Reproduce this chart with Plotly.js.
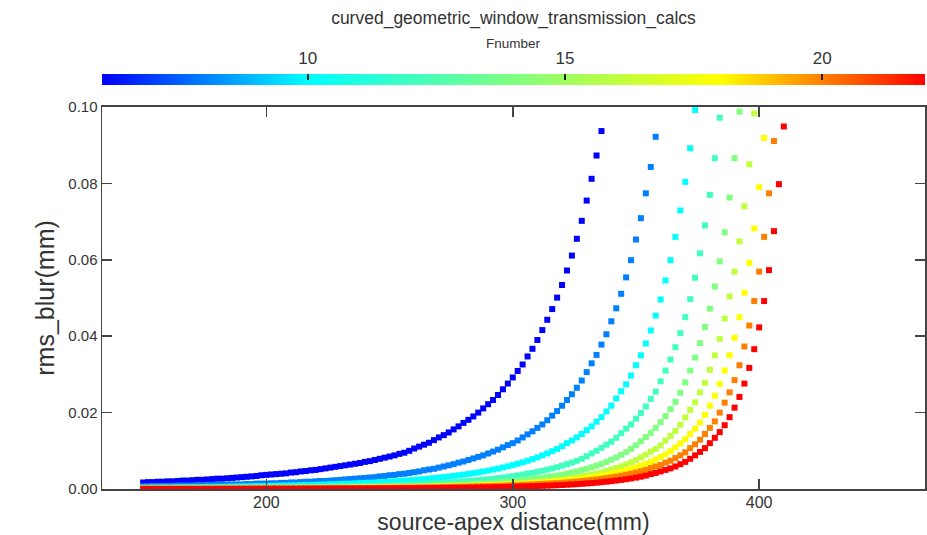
<!DOCTYPE html>
<html><head><meta charset="utf-8">
<script src="https://cdn.plot.ly/plotly-3.0.1.min.js"></script>
<style>html,body{margin:0;padding:0;background:#fff}#chart{width:927px;height:535px}</style>
</head><body><div id="chart"></div>
<script>
// source-apex distance (mm), shared sample grid
const distance = [
150,152,154,156,158,160,162,164,166,168,
170,172,174,176,178,180,182,184,186,188,
190,192,194,196,198,200,202,204,206,208,
210,212,214,216,218,220,222,224,226,228,
230,232,234,236,238,240,242,244,246,248,
250,252,254,256,258,260,262,264,266,268,
270,272,274,276,278,280,282,284,286,288,
290,292,294,296,298,300,302,304,306,308,
310,312,314,316,318,320,322,324,326,328,
330,332,334,336,338,340,342,344,346,348,
350,352,354,356,358,360,362,364,366,368,
370,372,374,376,378,380,382,384,386,388,
390,392,394,396,398,400,402,404,406,408,
410];

const fnumbers = [6, 8, 10, 12, 14, 16, 18, 20, 22];
const colors = ['#0000ff','#0080ff','#00ffff','#40ffc0','#80ff80','#c0ff40','#ffff00','#ff8000','#ff0000'];

const blur_f6 = [
.0017,.0018,.0018,.0019,.0019,.0020,.0020,.0021,.0022,.0022,
.0023,.0024,.0024,.0025,.0026,.0027,.0027,.0028,.0029,.0030,
.0031,.0032,.0033,.0034,.0036,.0037,.0038,.0039,.0040,.0041,
.0043,.0044,.0046,.0047,.0049,.0050,.0052,.0054,.0056,.0058,
.0060,.0062,.0064,.0066,.0068,.0071,.0073,.0076,.0079,.0082,
.0085,.0088,.0092,
.0095,.0100,.0106,.0111,.0116,.0121,.0128,.0135,.0141,.0148,
.0156,.0164,.0173,.0181,.0190,.0200,.0211,.0222,.0233,.0246,
.0261,.0276,.0292,.0309,.0326,.0347,.0367,.0390,.0416,.0443,
.0471,.0501,.0534,.0572,.0611,.0655,.0702,.0755,.0812,.0873,
.0937];

const blur_f8 = [
.0007,.0007,.0008,.0008,.0008,.0008,.0008,.0009,.0009,.0009,
.0009,.0010,.0010,.0010,.0011,.0011,.0011,.0011,.0012,.0012,
.0012,.0013,.0013,.0014,.0014,.0014,.0015,.0015,.0016,.0016,
.0017,.0017,.0018,.0019,.0019,.0020,.0021,.0021,.0022,.0023,
.0024,.0025,.0026,.0027,.0028,.0029,.0030,.0031,.0033,.0034,
.0036,.0037,.0039,.0040,.0042,.0044,.0046,.0049,.0051,.0053,
.0056,.0059,.0062,.0065,.0069,.0072,.0076,.0080,.0084,.0088,
.0093,.0098,.0103,.0109,.0115,.0120,.0127,.0135,.0143,.0151,
.0160,.0169,.0180,.0192,.0204,.0218,.0233,.0248,.0265,.0284,
.0306,.0329,.0351,.0378,.0405,.0439,.0473,.0511,.0554,.0599,
.0653,.0709,.0774,.0843,.0922];

const blur_f10 = [
.00037,.00038,.00040,.00041,.00042,.00043,.00044,.00046,.00047,.00049,
.00050,.00051,.00053,.00055,.00056,.00057,.00059,.00061,.00063,.00065,
.00067,.00069,.00072,.00074,.00076,.00079,.00082,.00084,.00087,.00090,
.00093,.00096,.00100,.00103,.00107,.00110,.00114,.00118,.00123,.00127,
.00132,.00137,.00142,.00147,.00153,.00159,.00165,.00172,.00179,.00186,
.00194,.00202,.00210,.00219,.00229,.00239,.00250,.00261,.00273,.00285,
.00298,.00312,.00327,.00343,.00359,.00376,.00395,.00415,.00436,.00458,
.00481,.00507,.00534,.00563,.00594,.00626,.00661,.00698,.00739,.00782,
.00828,.00878,.00931,.00989,.0105,.0112,.0120,.0127,.0135,.0144,
.0154,.0164,.0176,.0188,.0203,.0218,.0237,.0256,.0274,.0297,
.0324,.0350,.0381,.0415,.0454,.0496,.0546,.0599,.0660,.0729,
.0804,.0892,.0992];

const blur_f12 = [
.00018,.00019,.00019,.00020,.00020,.00021,.00022,.00022,.00023,.00023,
.00024,.00025,.00026,.00026,.00027,.00028,.00029,.00030,.00031,.00032,
.00033,.00034,.00035,.00037,.00038,.00039,.00040,.00042,.00043,.00045,
.00046,.00048,.00050,.00051,.00053,.00055,.00057,.00059,.00062,.00064,
.00067,.00070,.00073,.00076,.00079,.00082,.00085,.00089,.00092,.00096,
.00100,.00104,.00109,.00114,.00119,.00124,.00130,.00136,.00142,.00149,
.00156,.00164,.00172,.00180,.00189,.00199,.00209,.00219,.00231,.00243,
.00256,.00270,.00284,.00300,.00318,.00336,.00356,.00377,.00399,.00423,
.00448,.00476,.00505,.00537,.00571,.00610,.0065,.0069,.0074,.0079,
.0086,.0093,.0100,.0108,.0116,.0124,.0134,.0146,.0158,.0169,
.0184,.0199,.0216,.0236,.0255,.0282,.0310,.0339,.0371,.0408,
.0450,.0497,.0553,.0617,.0690,.0770,.0866,.0972];

const blur_f14 = [
.00011,.00011,.00011,.00012,.00012,.00012,.00013,.00013,.00013,.00014,
.00014,.00015,.00015,.00016,.00016,.00017,.00017,.00018,.00019,.00019,
.00020,.00021,.00021,.00022,.00023,.00023,.00024,.00025,.00026,.00027,
.00028,.00029,.00030,.00031,.00032,.00033,.00034,.00036,.00037,.00039,
.00040,.00042,.00044,.00045,.00047,.00049,.00051,.00053,.00055,.00058,
.00060,.00063,.00066,.00069,.00072,.00075,.00079,.00082,.00086,.00090,
.00094,.00099,.00104,.00109,.00114,.00120,.00126,.00133,.00140,.00148,
.00156,.00165,.00174,.00184,.00194,.00205,.00217,.00230,.00244,.00259,
.00275,.00292,.00311,.00331,.00353,.00377,.00402,.00430,.00460,.00493,
.00529,.00568,.00610,.00656,.00708,.00765,.00826,.00893,.00966,.0105,
.01144,.0125,.0136,.0147,.0160,.0175,.0191,.0209,.0228,.0252,
.0279,.0310,.0344,.0382,.0424,.0472,.0530,.0596,.0672,.0763,
.0866,.0988];

const blur_f16 = [
.00006,.00007,.00007,.00007,.00008,.00008,.00008,.00008,.00009,.00009,
.00009,.00009,.00010,.00010,.00010,.00010,.00011,.00011,.00011,.00012,
.00012,.00013,.00013,.00014,.00014,.00015,.00015,.00016,.00016,.00017,
.00017,.00018,.00019,.00019,.00020,.00021,.00022,.00022,.00023,.00024,
.00025,.00026,.00027,.00029,.00030,.00031,.00033,.00034,.00036,.00037,
.00039,.00041,.00043,.00045,.00047,.00049,.00052,.00054,.00057,.00059,
.00061,.00065,.00068,.00072,.00075,.00079,.00083,.00087,.00092,.00097,
.00102,.00108,.00114,.00120,.00127,.00135,.00143,.00151,.00161,.00171,
.00182,.00194,.00206,.00219,.00234,.00250,.00267,.00285,.00305,.00328,
.00352,.00377,.00405,.00435,.00471,.00509,.00550,.00594,.00643,.00698,
.00759,.00826,.0090,.0098,.0105,.0114,.0127,.0139,.0152,.0168,
.0187,.0207,.0227,.0253,.0278,.0312,.0350,.0393,.0446,.0504,
.0569,.0648,.0740,.0850,.0983];

const blur_f18 = [
.00008,.00008,.00009,.00009,.00009,.00009,.00010,.00010,.00010,.00011,
.00011,.00011,.00011,.00012,.00012,.00012,.00013,.00013,.00013,.00014,
.00014,.00015,.00015,.00016,.00016,.00017,.00018,.00018,.00019,.00019,
.00020,.00021,.00021,.00022,.00023,.00023,.00024,.00025,.00026,.00027,
.00028,.00029,.00030,.00031,.00032,.00033,.00034,.00036,.00037,.00038,
.00040,.00042,.00044,.00045,.00047,.00049,.00051,.00053,.00055,.00058,
.00060,.00063,.00066,.00069,.00072,.00075,.00079,.00083,.00086,.00091,
.00095,.00100,.00105,.00110,.00115,.00121,.00127,.00134,.00142,.00150,
.00158,.00167,.00176,.00187,.00197,.00209,.00222,.00236,.00251,.00267,
.00284,.00303,.00324,.00346,.00369,.00395,.00423,.00453,.00487,.00525,
.00566,.00611,.0066,.0071,.0077,.0084,.0091,.0099,.0109,.0119,
.0130,.0144,.0158,.0174,.0194,.0218,.0244,.0275,.0310,.0350,
.0396,.0450,.0514,.0592,.0682,.0790,.0919];

const blur_f20 = [
.00007,.00007,.00007,.00008,.00008,.00008,.00008,.00008,.00009,.00009,
.00009,.00009,.00009,.00010,.00010,.00010,.00010,.00011,.00011,.00011,
.00012,.00012,.00013,.00013,.00013,.00014,.00014,.00015,.00015,.00016,
.00016,.00017,.00017,.00018,.00018,.00019,.00020,.00020,.00021,.00022,
.00023,.00024,.00024,.00025,.00026,.00027,.00028,.00029,.00030,.00031,
.00032,.00033,.00035,.00036,.00037,.00039,.00041,.00042,.00044,.00046,
.00048,.00050,.00052,.00055,.00057,.00060,.00063,.00066,.00069,.00072,
.00076,.00080,.00084,.00088,.00092,.00096,.00101,.00107,.00112,.00118,
.00125,.00132,.00139,.00147,.00155,.00164,.00174,.00184,.00196,.00208,
.00221,.00235,.00251,.00267,.00285,.00304,.00326,.00349,.00374,.00401,
.00431,.00465,.0050,.0055,.0059,.0063,.0069,.0074,.0081,.0088,
.0096,.0107,.0117,.0129,.0144,.0160,.0177,.0200,.0226,.0253,
.0285,.0324,.0373,.0428,.0492,.0569,.0660,.0774,.0911];

const blur_f22 = [
.00004,.00004,.00004,.00004,.00004,.00004,.00004,.00004,.00005,.00005,
.00005,.00005,.00005,.00005,.00005,.00006,.00006,.00006,.00006,.00006,
.00006,.00007,.00007,.00007,.00007,.00008,.00008,.00008,.00008,.00009,
.00009,.00009,.00009,.00010,.00010,.00010,.00011,.00011,.00012,.00012,
.00013,.00013,.00014,.00014,.00015,.00015,.00016,.00017,.00017,.00018,
.00019,.00020,.00021,.00021,.00022,.00023,.00024,.00025,.00026,.00027,
.00028,.00030,.00031,.00033,.00034,.00036,.00038,.00040,.00042,.00044,
.00046,.00048,.00051,.00053,.00056,.00059,.00063,.00066,.00070,.00074,
.00078,.00083,.00088,.00093,.00099,.00105,.00112,.00119,.00127,.00136,
.00145,.00155,.00166,.00178,.00191,.00205,.00221,.00238,.00256,.00276,
.00298,.00323,.0035,.0039,.0042,.0046,.0050,.0054,.0059,.0065,
.0071,.0079,.0088,.0097,.0107,.0120,.0134,.0149,.0167,.0188,
.0213,.0241,.0276,.0317,.0366,.0423,.0492,.0573,.0675,.0798,.0949];

const colorbarTicks = [10, 15, 20];
const yTicks = [0, 0.02, 0.04, 0.06, 0.08, 0.10];
const xTicks = [200, 300, 400];

const blurSeries = [blur_f6, blur_f8, blur_f10, blur_f12, blur_f14, blur_f16, blur_f18, blur_f20, blur_f22];

const FONT = 'Liberation Sans, Arial, Helvetica, sans-serif';
const TXT = '#333333';
const AX = '#444444';

const traces = blurSeries.map((ys, i) => ({
  type: 'scatter', mode: 'markers',
  x: distance.slice(0, ys.length), y: ys,
  name: 'F' + fnumbers[i],
  marker: {symbol: 'square', size: 6, color: colors[i], line: {width: 0}},
  showlegend: false, hoverinfo: 'skip'
}));

const fmin = Math.min(...fnumbers), fmax = Math.max(...fnumbers);
traces.push({
  type: 'heatmap', x: fnumbers, y: [0, 1], z: [fnumbers, fnumbers],
  zmin: fmin, zmax: fmax, zsmooth: 'best',
  colorscale: fnumbers.map((f, i) => [(f - fmin) / (fmax - fmin), colors[i]]),
  showscale: false, xaxis: 'x2', yaxis: 'y2', hoverinfo: 'skip'
});

const layout = {
  width: 927, height: 535,
  margin: {l: 102, r: 2, t: 0, b: 46, pad: 0},
  paper_bgcolor: '#ffffff', plot_bgcolor: '#ffffff',
  font: {family: FONT, color: TXT},
  showlegend: false,
  title: {text: 'curved_geometric_window_transmission_calcs', x: 0.5, xref: 'paper', xanchor: 'center',
          y: 1 - 18/535, yref: 'container', yanchor: 'middle', font: {size: 17.5, color: TXT, family: FONT}},
  xaxis: {domain: [0, 1], anchor: 'y', range: [133.3, 467.3], tickvals: xTicks,
          ticks: 'inside', ticklen: 10, tickwidth: 1.5, tickcolor: AX, mirror: 'ticks',
          showline: true, linecolor: AX, linewidth: 1.5, showgrid: false, zeroline: false,
          tickfont: {size: 16, color: TXT}, automargin: false, ticklabelstandoff: -2,
          title: {text: 'source-apex distance(mm)', font: {size: 23, color: TXT}, standoff: 2}},
  yaxis: {domain: [0, 0.7812], anchor: 'x', range: [0, 0.1], tickvals: yTicks, tickformat: '.2f',
          ticks: 'inside', ticklen: 10, tickwidth: 1.5, tickcolor: AX, mirror: 'ticks',
          showline: true, linecolor: AX, linewidth: 1.5, showgrid: false, zeroline: false,
          tickfont: {size: 15, color: TXT}, automargin: false,
          title: {text: 'rms_blur(mm)', font: {size: 25, color: TXT}, standoff: 6}},
  xaxis2: {domain: [0, 1], anchor: 'y2', range: [fmin, fmax], side: 'top', tickvals: colorbarTicks,
           ticks: 'inside', ticklen: 6, tickwidth: 1.5, tickcolor: '#222222',
           showline: false, showgrid: false, zeroline: false, automargin: false,
           tickfont: {size: 17, color: TXT}, ticklabelstandoff: 6},
  yaxis2: {domain: [0.8262, 0.8487], anchor: 'x2', range: [0, 1], visible: false},
  annotations: [{text: 'Fnumber', xref: 'paper', yref: 'paper', x: 0.5, y: (489 - 43) / 489,
                 xanchor: 'center', yanchor: 'middle', showarrow: false,
                 font: {size: 13.5, color: TXT, family: FONT}}]
};

Plotly.newPlot('chart', traces, layout, {staticPlot: true, displayModeBar: false});
</script>
</body></html>
